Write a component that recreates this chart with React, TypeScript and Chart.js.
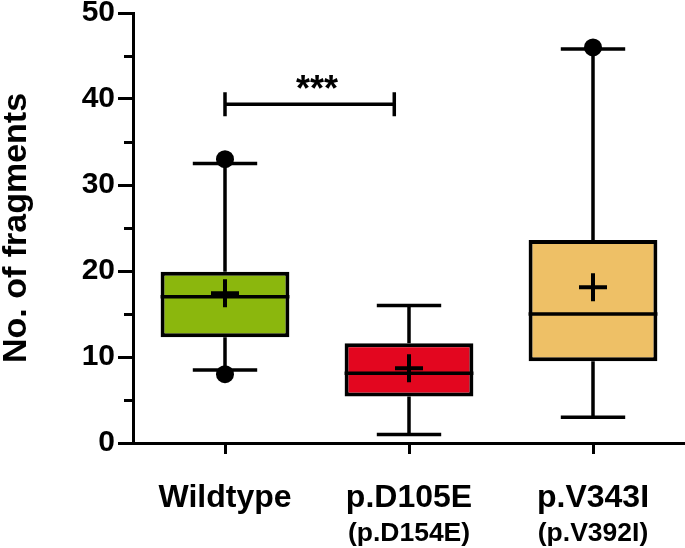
import { useEffect, useRef } from 'react';
import { Chart, registerables } from 'chart.js';
Chart.register(...registerables);

const FONT = '"Liberation Sans", Arial, Helvetica, sans-serif';

const categories = ['Wildtype', 'p.D105E', 'p.V343I'];
const subLabels = ['', '(p.D154E)', '(p.V392I)'];
const q1 = [12.3, 5.4, 9.5];
const q3 = [19.9, 11.6, 23.6];
const medians = [17.0, 8.1, 15.0];
const means = [17.4, 8.7, 18.1];
const whiskerLow = [8.5, 1.0, 3.0];
const whiskerHigh = [32.5, 16.0, 45.8];
const extremePoints = [[33, 8], [], [46]];
const boxColors = ['#8BB70D', '#E3061F', '#EEC066'];

const yMin = 0;
const yMax = 50;
const yMajorStep = 10;
const yMinorTicks = [5, 15, 25, 35, 45];
const yTitle = 'No. of fragments';

const sigFrom = 0;
const sigTo = 0.92;
const sigY = 39.4;
const sigLabelAt = 0.5;
const sigLabel = '***';

export default function App() {
  const ref = useRef<HTMLCanvasElement>(null);

  useEffect(() => {
    document.body.style.margin = '0';
    const canvas = ref.current!;

    const boxPlugin = {
      id: 'boxplot',
      beforeDatasetsDraw(chart: any) {
        const ctx = chart.ctx;
        const xs = chart.scales.x;
        const ys = chart.scales.y;
        const meta = chart.getDatasetMeta(0);
        ctx.save();
        ctx.strokeStyle = '#000';
        ctx.fillStyle = '#000';
        ctx.lineWidth = 3.5;
        categories.forEach((_, i) => {
          const el = meta.data[i];
          const cx = xs.getPixelForValue(i);
          const half = el.width * 0.25;
          const yLo = ys.getPixelForValue(whiskerLow[i]);
          const yHi = ys.getPixelForValue(whiskerHigh[i]);
          const yQ1 = ys.getPixelForValue(q1[i]);
          const yQ3 = ys.getPixelForValue(q3[i]);
          ctx.beginPath();
          ctx.moveTo(cx, yHi);
          ctx.lineTo(cx, yQ3);
          ctx.moveTo(cx, yQ1);
          ctx.lineTo(cx, yLo);
          ctx.moveTo(cx - half, yHi);
          ctx.lineTo(cx + half, yHi);
          ctx.moveTo(cx - half, yLo);
          ctx.lineTo(cx + half, yLo);
          ctx.stroke();
          extremePoints[i].forEach((v) => {
            ctx.beginPath();
            ctx.arc(cx, ys.getPixelForValue(v), 9, 0, Math.PI * 2);
            ctx.fill();
          });
        });
        ctx.restore();
      },
      afterDatasetsDraw(chart: any) {
        const ctx = chart.ctx;
        const xs = chart.scales.x;
        const ys = chart.scales.y;
        const meta = chart.getDatasetMeta(0);
        ctx.save();
        ctx.strokeStyle = '#000';
        categories.forEach((_, i) => {
          const el = meta.data[i];
          const cx = xs.getPixelForValue(i);
          const hw = el.width / 2;
          const yMed = ys.getPixelForValue(medians[i]);
          ctx.lineWidth = 3.5;
          ctx.beginPath();
          ctx.moveTo(cx - hw, yMed);
          ctx.lineTo(cx + hw, yMed);
          ctx.stroke();
          const yMean = ys.getPixelForValue(means[i]);
          ctx.lineWidth = 4;
          ctx.beginPath();
          ctx.moveTo(cx - 14, yMean);
          ctx.lineTo(cx + 14, yMean);
          ctx.moveTo(cx, yMean - 14);
          ctx.lineTo(cx, yMean + 14);
          ctx.stroke();
        });
        ctx.restore();
      },
      afterDraw(chart: any) {
        const ctx = chart.ctx;
        const xs = chart.scales.x;
        const ys = chart.scales.y;
        const area = chart.chartArea;
        ctx.save();
        ctx.strokeStyle = '#000';
        ctx.fillStyle = '#000';
        ctx.lineWidth = 3;
        yMinorTicks.forEach((v) => {
          const py = Math.round(ys.getPixelForValue(v)) + 0.5;
          ctx.beginPath();
          ctx.moveTo(area.left - 9, py);
          ctx.lineTo(area.left, py);
          ctx.stroke();
        });
        ctx.save();
        ctx.translate(17, (area.top + area.bottom) / 2);
        ctx.rotate(-Math.PI / 2);
        ctx.font = `bold 34px ${FONT}`;
        ctx.textAlign = 'center';
        ctx.textBaseline = 'middle';
        ctx.fillText(yTitle, 0, 0);
        ctx.restore();
        ctx.textAlign = 'center';
        ctx.textBaseline = 'alphabetic';
        categories.forEach((c, i) => {
          const cx = xs.getPixelForValue(i);
          ctx.font = `bold 32px ${FONT}`;
          ctx.fillText(c, cx, 507);
          if (subLabels[i]) {
            ctx.font = `bold 26.5px ${FONT}`;
            ctx.fillText(subLabels[i], cx, 541);
          }
        });
        const x0 = xs.getPixelForValue(sigFrom);
        const x1 = xs.getPixelForValue(sigTo);
        const sy = ys.getPixelForValue(sigY);
        ctx.lineWidth = 3.5;
        ctx.beginPath();
        ctx.moveTo(x0, sy);
        ctx.lineTo(x1, sy);
        ctx.moveTo(x0, sy - 12);
        ctx.lineTo(x0, sy + 12);
        ctx.moveTo(x1, sy - 12);
        ctx.lineTo(x1, sy + 12);
        ctx.stroke();
        ctx.font = `bold 36px ${FONT}`;
        ctx.fillText(sigLabel, xs.getPixelForValue(sigLabelAt), sy - 3);
        ctx.restore();
      },
    };

    const chart = new Chart(canvas, {
      type: 'bar',
      data: {
        labels: categories,
        datasets: [
          {
            data: categories.map((_, i) => [q1[i], q3[i]]) as any,
            backgroundColor: boxColors,
            borderColor: '#000',
            borderWidth: 4,
            borderSkipped: false,
            barPercentage: 0.7,
            categoryPercentage: 1,
          },
        ],
      },
      options: {
        responsive: false,
        animation: false,
        devicePixelRatio: 1,
        layout: { padding: { top: 13, right: 0, left: 0, bottom: 0 } },
        plugins: { legend: { display: false }, tooltip: { enabled: false } },
        scales: {
          x: {
            type: 'category',
            offset: true,
            grid: {
              offset: false,
              drawOnChartArea: false,
              drawTicks: true,
              tickLength: 11,
              lineWidth: 3,
              color: '#000',
            },
            border: { display: true, width: 3, color: '#000' },
            ticks: { display: false },
            afterFit: (s: any) => {
              s.height = 105;
              s.paddingLeft = 0;
              s.paddingRight = 0;
            },
          },
          y: {
            min: yMin,
            max: yMax,
            ticks: {
              stepSize: yMajorStep,
              color: '#000',
              padding: 3,
              font: { family: FONT, size: 30, weight: 'bold' },
            },
            grid: {
              drawOnChartArea: false,
              drawTicks: true,
              tickLength: 15,
              lineWidth: 3,
              color: '#000',
            },
            border: { display: true, width: 3, color: '#000' },
            afterFit: (s: any) => {
              s.width = 133;
              s.paddingTop = 0;
              s.paddingBottom = 0;
            },
          },
        },
      },
      plugins: [boxPlugin],
    });
    return () => chart.destroy();
  }, []);

  return (
    <div style={{ width: 685, height: 548 }}>
      <canvas ref={ref} width={685} height={548} />
    </div>
  );
}
